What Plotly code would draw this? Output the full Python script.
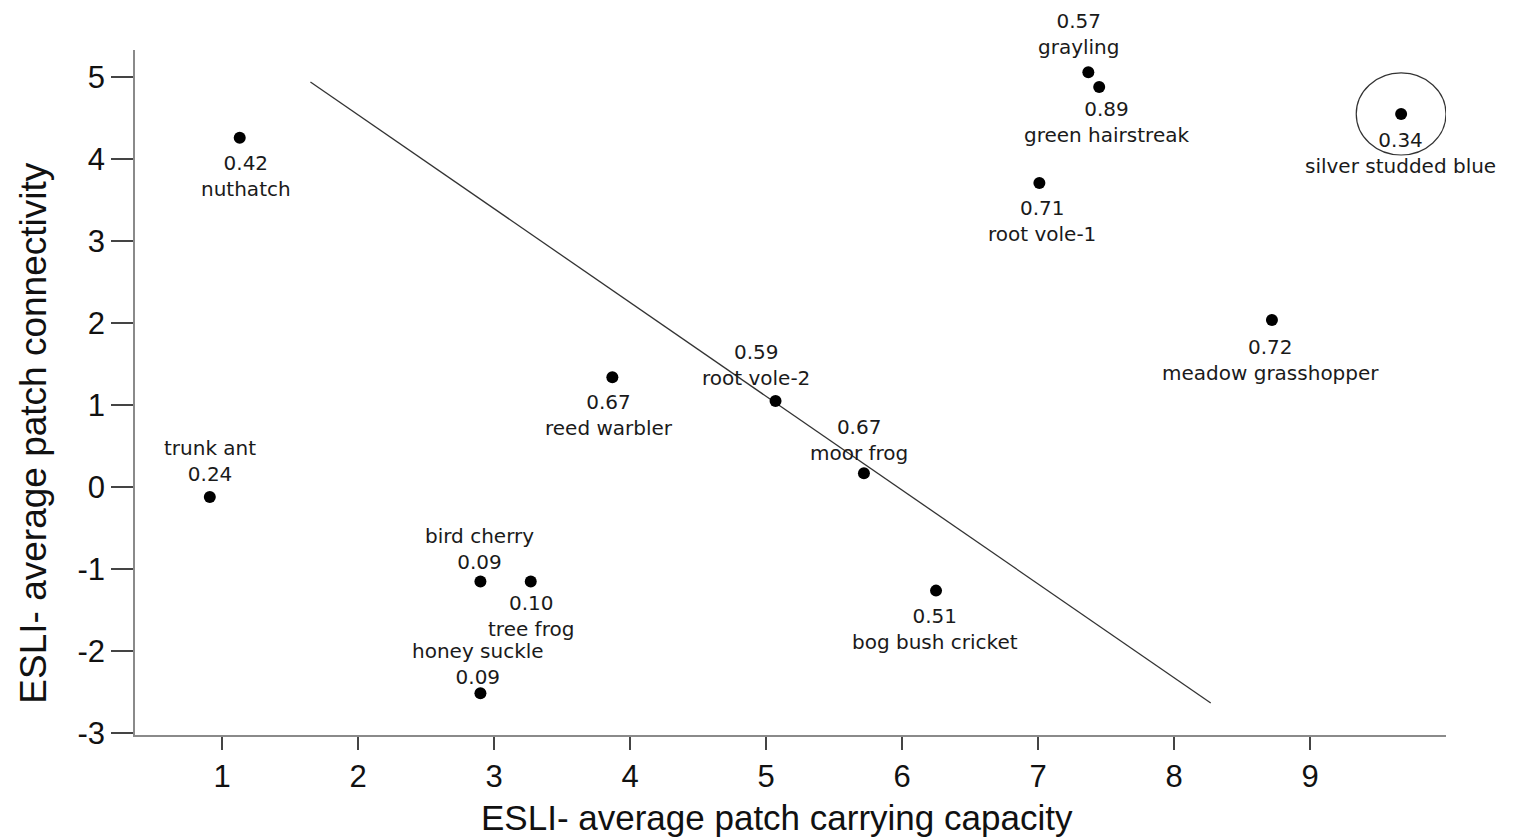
import plotly.graph_objects as go

# ---- data ----
species = ["nuthatch", "trunk ant", "bird cherry", "tree frog", "honey suckle",
           "reed warbler", "root vole-2", "moor frog", "bog bush cricket",
           "root vole-1", "grayling", "green hairstreak", "meadow grasshopper",
           "silver studded blue"]
carrying = [1.13, 0.91, 2.90, 3.27, 2.90, 3.87, 5.07, 5.72, 6.25, 7.01, 7.37, 7.45, 8.72, 9.67]
connectivity = [4.26, -0.12, -1.15, -1.15, -2.51, 1.34, 1.05, 0.17, -1.26, 3.71, 5.06, 4.88, 2.04, 4.55]
values = ["0.42", "0.24", "0.09", "0.10", "0.09", "0.67", "0.59", "0.67", "0.51",
          "0.71", "0.57", "0.89", "0.72", "0.34"]
# label placement relative to the dot
label_side = ["below", "above", "above", "below", "above", "below", "above", "above",
              "below", "below", "above", "below", "below", "below"]
# line order of the two-line label: "vn" = value over name, "nv" = name over value
label_order = ["vn", "nv", "nv", "vn", "nv", "vn", "vn", "vn",
               "vn", "vn", "vn", "vn", "vn", "vn"]
label_dx = [6, 0, -1, 0, -2, -3, -20, -5, -1, 3, -9, 7, -1, -1]
label_dy = [0, 0, -3, 4, -7, 0, 0, -3, 0, 0, 2, 3, -2, -1]

fit_x = [1.65, 8.27]
fit_y = [4.94, -2.63]

x_ticks = [1, 2, 3, 4, 5, 6, 7, 8, 9]
y_ticks = [-3, -2, -1, 0, 1, 2, 3, 4, 5]

highlight = "silver studded blue"

fig = go.Figure()

fig.add_trace(go.Scatter(x=fit_x, y=fit_y, mode="lines",
                         line=dict(color="#333333", width=1.3), hoverinfo="skip",
                         showlegend=False))
fig.add_trace(go.Scatter(x=carrying, y=connectivity, mode="markers",
                         marker=dict(color="black", size=12),
                         showlegend=False))

lab_font = dict(family="DejaVu Sans", size=20, color="#1a1a1a")
for name, xv, yv, val, side, order, dx, dy in zip(species, carrying, connectivity, values,
                                                  label_side, label_order, label_dx, label_dy):
    text = f"{val}<br>{name}" if order == "vn" else f"{name}<br>{val}"
    if side == "below":
        fig.add_annotation(x=xv, y=yv, xref="x", yref="y", text=text,
                           showarrow=False, yanchor="top", xanchor="center",
                           yshift=-11 + dy, xshift=dx, font=lab_font, align="center")
    else:
        fig.add_annotation(x=xv, y=yv, xref="x", yref="y", text=text,
                           showarrow=False, yanchor="bottom", xanchor="center",
                           yshift=9 + dy, xshift=dx, font=lab_font, align="center")

# circle around the highlighted species
hi = species.index(highlight)
fig.add_shape(type="circle", xref="x", yref="y",
              x0=carrying[hi] - 0.33, x1=carrying[hi] + 0.33,
              y0=connectivity[hi] - 0.5, y1=connectivity[hi] + 0.5,
              line=dict(color="#333333", width=1.2))

axis_common = dict(showgrid=False, zeroline=False, showline=True,
                   linecolor="#8a8a8a", linewidth=1.5, ticks="outside",
                   tickcolor="#444444", tickwidth=1.5,
                   tickfont=dict(family="Liberation Sans, Arial", size=31, color="#111111"))

fig.update_xaxes(range=[0.36, 10.0], tickvals=x_ticks, ticktext=[str(t) for t in x_ticks],
                 ticklen=13, **axis_common)
fig.update_yaxes(range=[-3.02, 5.33], tickvals=y_ticks, ticktext=[str(t) for t in y_ticks],
                 ticklen=22, **axis_common)

fig.add_annotation(text="ESLI- average patch carrying capacity", xref="paper", yref="paper",
                   x=0.49, y=-0.12, xanchor="center", yanchor="middle", showarrow=False,
                   font=dict(family="Liberation Sans, Arial", size=35, color="#111111"))
fig.add_annotation(text="ESLI- average patch connectivity", xref="paper", yref="paper",
                   x=-0.077, y=0.44, xanchor="center", yanchor="middle", showarrow=False,
                   textangle=-90,
                   font=dict(family="Liberation Sans, Arial", size=37, color="#111111"))

fig.update_layout(width=1514, height=837, margin=dict(l=135, r=68, t=50, b=102),
                  plot_bgcolor="white", paper_bgcolor="white")

fig.write_html("out.html")
